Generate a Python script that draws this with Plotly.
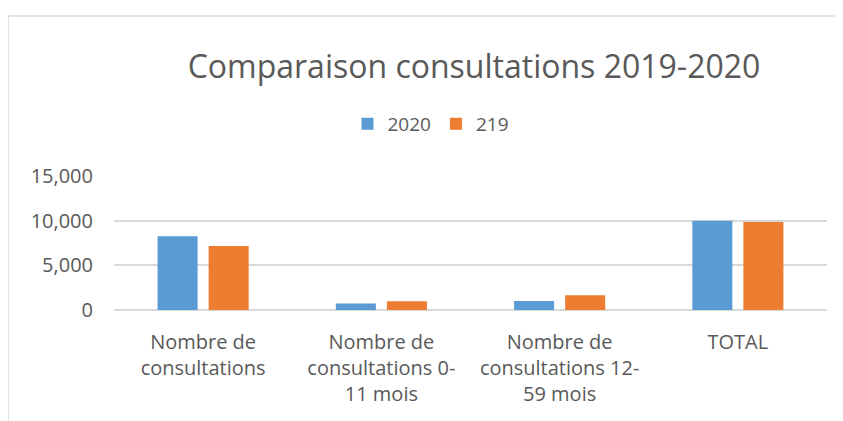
import plotly.graph_objects as go

categories = ["Nombre de<br>consultations", "Nombre de<br>consultations 0-<br>11 mois",
              "Nombre de<br>consultations 12-<br>59 mois", "TOTAL"]
series_names = ["2020", "219"]
values_2020 = [8250, 720, 1010, 9980]
values_219 = [7160, 980, 1650, 9860]
y_ticks = [0, 5000, 10000, 15000]

colors = ["#5B9BD5", "#ED7D31"]
font_family = "Open Sans, Noto Sans, sans-serif"
text_color = "#595959"

fig = go.Figure()
for name, vals, col in zip(series_names, [values_2020, values_219], colors):
    fig.add_trace(go.Bar(x=categories, y=vals, name=name, marker=dict(color=col, line=dict(width=0))))

# page body has an 8px margin, so the figure is offset by 8px
OFF = 8
W, H = 843 - OFF, 421 - OFF
ml, mt = 114 - OFF, 176 - OFF
mr = W - (827 - OFF)
mb = H - (310 - OFF)
pw = W - ml - mr
ph = H - mt - mb

fig.update_layout(
    width=W, height=H,
    margin=dict(l=ml, r=mr, t=mt, b=mb, pad=0),
    paper_bgcolor="white", plot_bgcolor="white",
    font=dict(family=font_family, color=text_color, size=19),
    title=dict(text="Comparaison consultations 2019-2020", x=(474 - OFF) / W, xanchor="center",
               y=1 - (67 - OFF) / H, yanchor="middle", yref="container",
               font=dict(size=32, color=text_color, family=font_family)),
    barmode="group", bargap=0.427, bargroupgap=0.216,
    legend=dict(orientation="h", x=(431 - OFF - ml) / pw, xanchor="center",
                y=(310 - 124) / ph, yanchor="middle",
                font=dict(size=19, color=text_color), itemwidth=30,
                traceorder="normal"),
    showlegend=True,
)
fig.update_yaxes(range=[0, 15000], tickvals=y_ticks, tickformat=",", showgrid=True,
                 gridcolor="#d9d9d9", gridwidth=1.5, zeroline=True, zerolinecolor="#d9d9d9",
                 zerolinewidth=2, showline=False, ticks="", ticklen=0, ticklabelstandoff=20,
                 tickfont=dict(size=20, color=text_color))
fig.update_xaxes(showgrid=False, showline=False, ticks="", ticklabelstandoff=18,
                 tickfont=dict(size=20, color=text_color))

# chart-area border
fig.add_shape(type="rect", xref="paper", yref="paper",
              x0=(8 - 114) / pw, x1=(843 + 10 - 114) / pw,
              y0=(310 - (421 + 10)) / ph, y1=(310 - 16) / ph,
              line=dict(color="#d9d9d9", width=1.5), fillcolor="rgba(0,0,0,0)", layer="below")

fig.write_html("out.html")
